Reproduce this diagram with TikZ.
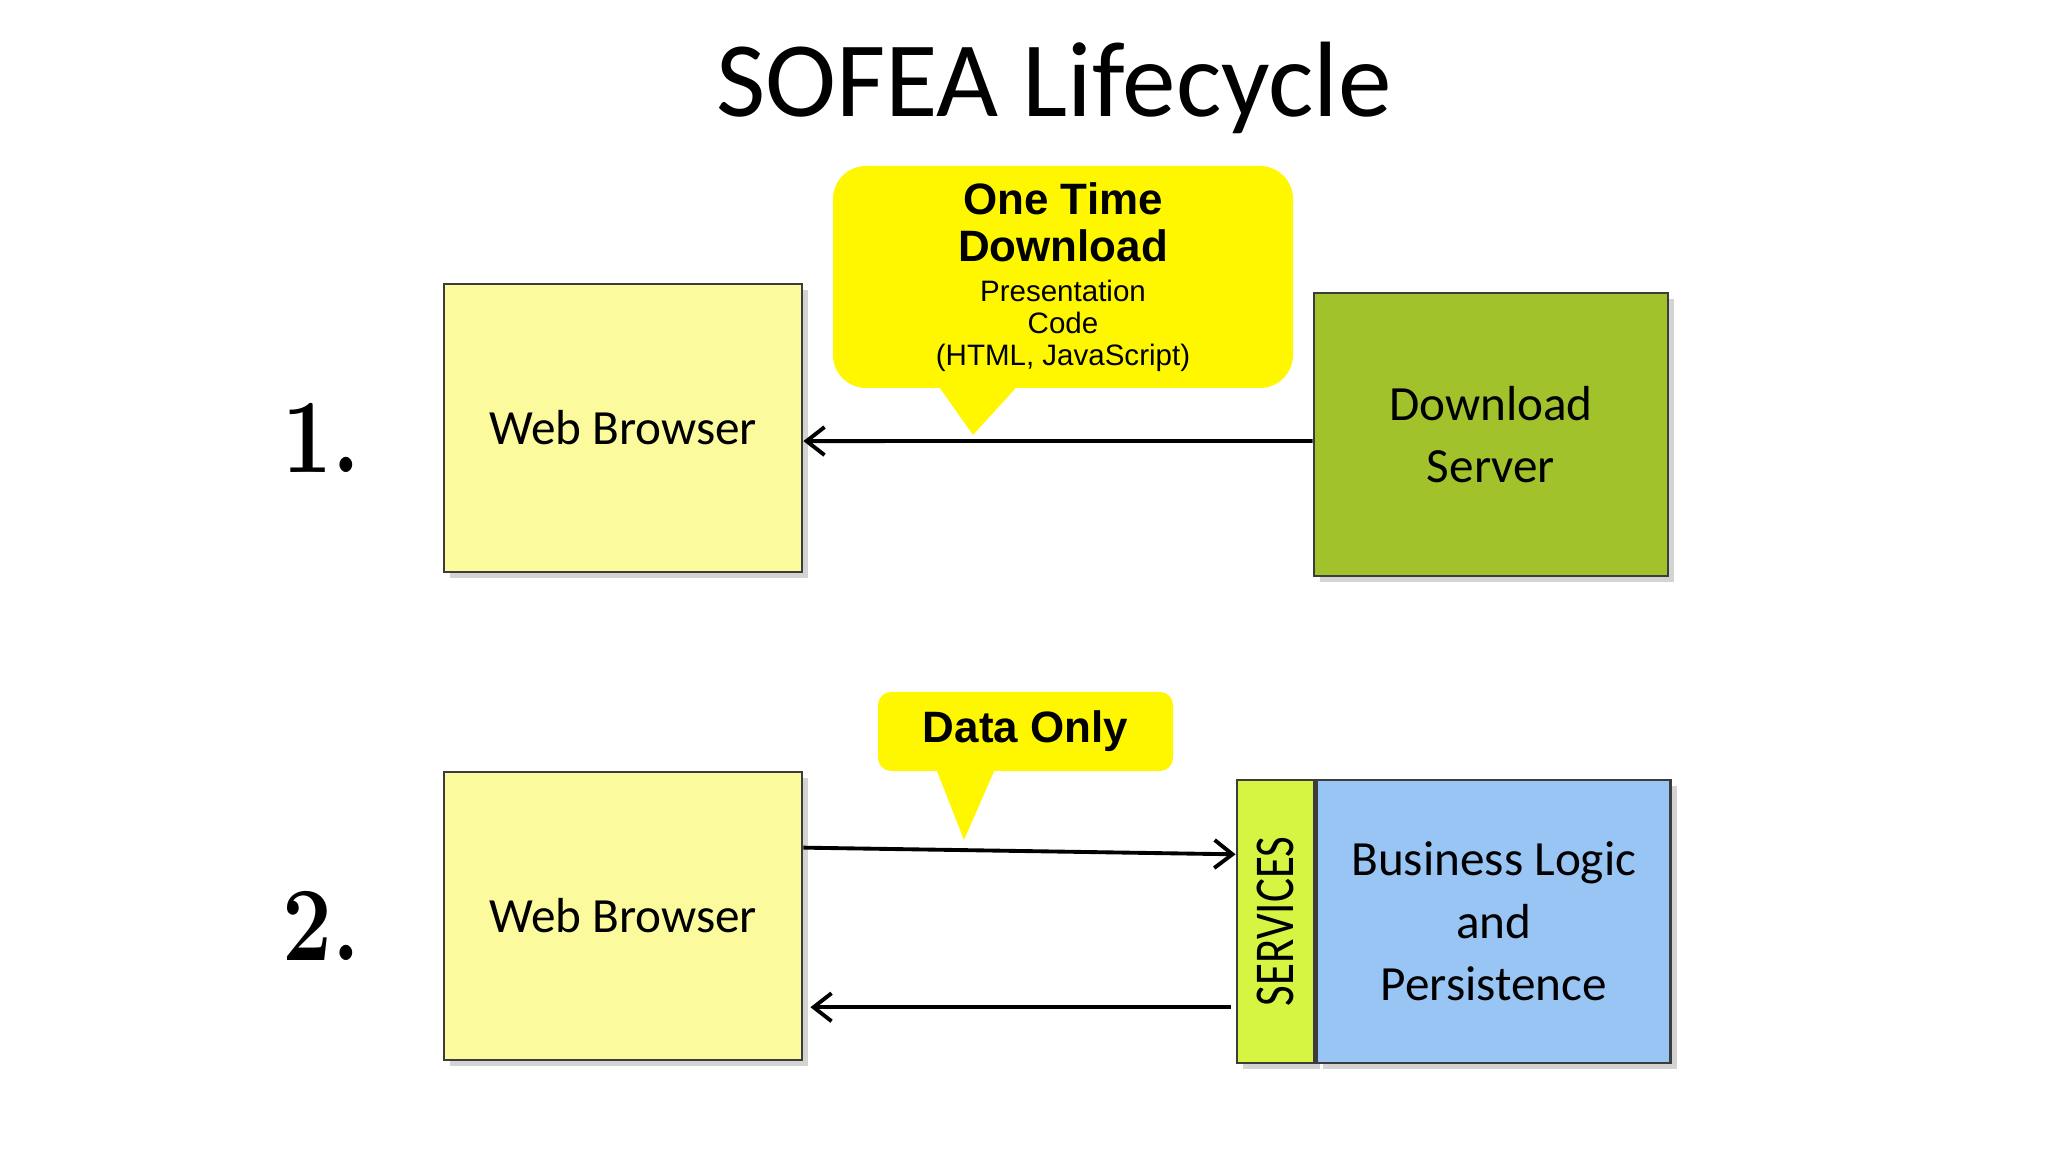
\documentclass[tikz,border=0pt]{standalone}
\usepackage{fontspec}
\newfontfamily\calibri{Carlito}
\newfontfamily\arial{Liberation Sans}
\usetikzlibrary{calc,positioning,arrows.meta,shadows}
\definecolor{borda}{HTML}{3C3C3C}
\definecolor{navegador}{HTML}{FBFB9E}
\definecolor{servidor}{HTML}{A2C22C}
\definecolor{servicos}{HTML}{D6F542}
\definecolor{negocio}{HTML}{99C5F5}
\definecolor{balao}{HTML}{FFF700}
\newcommand\grande{\fontsize{12.5}{13.4}\selectfont\bfseries}
\newcommand\miudo{\fontsize{8.4}{9.1}\selectfont}

\begin{document}
\begin{tikzpicture}[x=1cm,y=1cm, bx/.style={draw=borda, line width=0.8pt, inner sep=0pt, align=center, font=\calibri\fontsize{14}{17.8}\selectfont,
    drop shadow={shadow xshift=0.06cm, shadow yshift=-0.06cm, opacity=0.35}},
  bal/.style={fill=balao, rounded corners=0.33cm, inner sep=0pt, align=center, font=\arial\miudo},
  ar/.style={-{Straight Barb[length=1.8mm,width=2.8mm]}, line width=1.1pt}]
  \useasboundingbox (0,0) rectangle (20.48,11.52);
  \node[font=\calibri\fontsize{30.5}{36}\selectfont] (tit) at (10.54,10.64) {SOFEA Lifecycle};
  \foreach \i/\y in {1/7.24,2/2.36}{\node[font=\fontsize{30}{30}\selectfont\bfseries] (n\i) at (3.21,\y-0.1) {\scalebox{0.84}[1]{\i.}};
    \node[bx, fill=navegador, minimum width=3.58cm, minimum height=2.88cm] (nav\i) at (6.23,\y) {Web Browser};}
  \node[bx, fill=servidor, minimum width=3.54cm, minimum height=2.83cm] (srv) at (14.91,7.175) {Download\\Server};
  \node[bx, fill=servicos, minimum width=0.77cm, minimum height=2.83cm] (svc) at (12.755,2.305) {\rotatebox{90}{\fontsize{16}{16}\selectfont\scalebox{0.8}[1]{SERVICES}}};
  \node[bx, fill=negocio, minimum width=3.54cm, minimum height=2.83cm, right=0pt of svc] (neg) {Business Logic\\and\\Persistence};
  \node[bal, minimum width=4.6cm, minimum height=2.22cm] (bal1) at (10.63,8.75) {\grande One Time\\[3.3pt]\grande Download\\[2.1pt]Presentation\\Code\\(HTML, JavaScript)};
  \node[bal, minimum width=2.95cm, minimum height=0.79cm, rounded corners=0.13cm] (bal2) at (10.255,4.205) {\grande Data Only};
  \fill[balao] ([xshift=1.01cm,yshift=0.1cm]bal1.south west) -- (9.73,7.17) -- ([xshift=1.92cm,yshift=0.1cm]bal1.south west) -- cycle;
  \fill[balao] ([xshift=0.56cm,yshift=0.1cm]bal2.south west) -- (9.64,3.12) -- ([xshift=1.21cm,yshift=0.1cm]bal2.south west) -- cycle;
  \draw[ar] ($(srv.north west)!0.523!(srv.south west)$) -- ($(nav1.north east)!0.545!(nav1.south east)$);
  \draw[ar] ($(nav2.north east)!0.265!(nav2.south east)$) -- ($(svc.north west)!0.265!(svc.south west)$);
  \draw[ar, shorten <=0.05cm, shorten >=0.07cm] ($(svc.north west)!0.8!(svc.south west)$) coordinate (volta) -- (volta -| nav2.east);
\end{tikzpicture}
\end{document}
